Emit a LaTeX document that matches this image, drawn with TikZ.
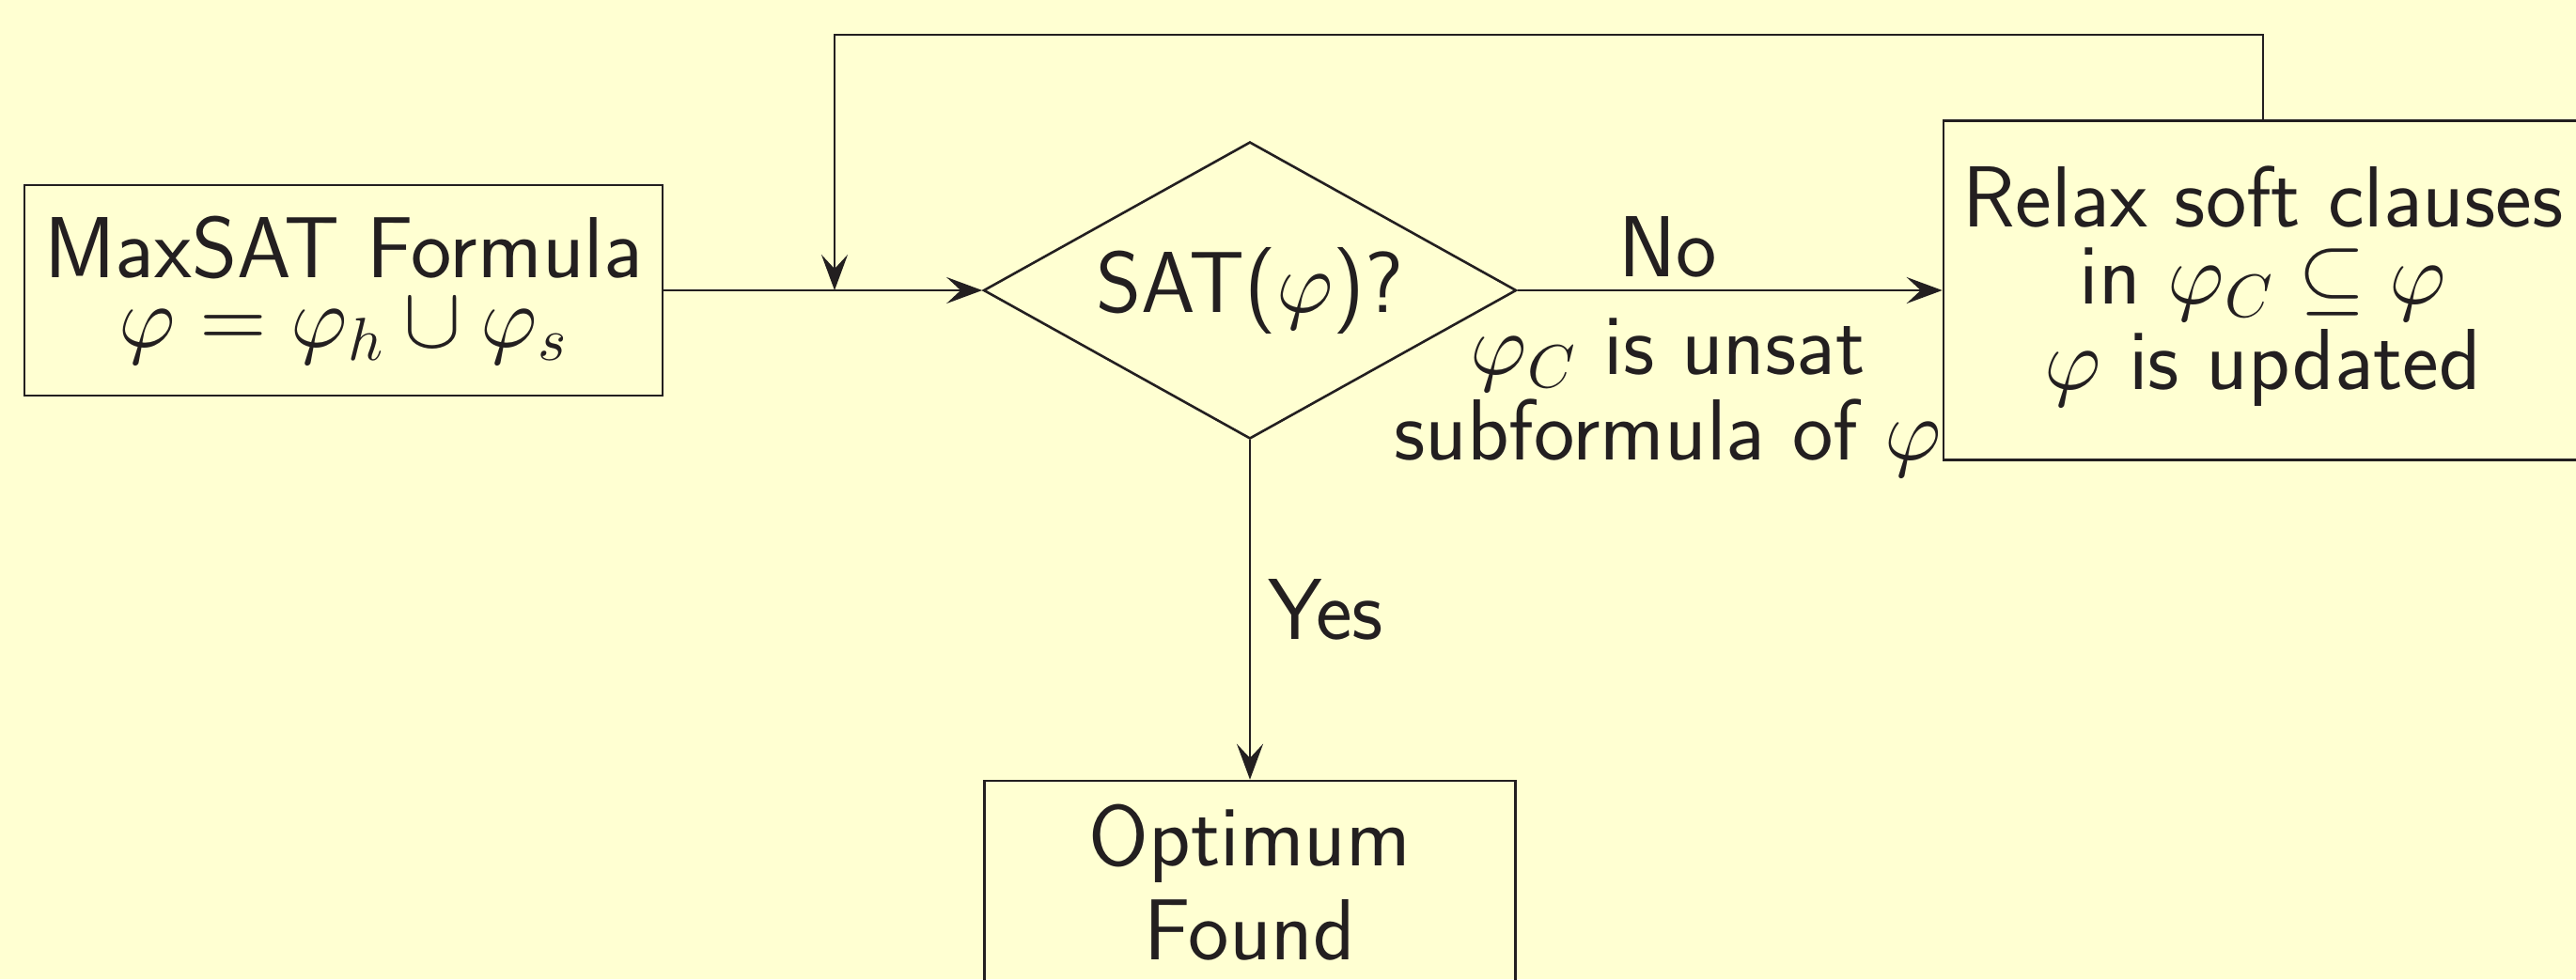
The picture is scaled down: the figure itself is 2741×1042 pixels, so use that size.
\documentclass[tikz,border=0pt]{standalone}
\usetikzlibrary{shapes.geometric,arrows.meta}
\DeclareFontShape{OML}{cmm}{m}{it}{<->cmmi10}{\skewchar\font=127}
\DeclareFontShape{OMS}{cmsy}{m}{n}{<->cmsy10}{\skewchar\font=48}
\DeclareFontShape{OT1}{cmr}{m}{n}{<->cmr10}{}
\definecolor{bg}{RGB}{255,255,210}
\definecolor{ink}{RGB}{35,31,32}
\newcommand\mytightlines{\lineskiplimit -100pt\relax}
\newcommand\myfont{\sffamily\fontsize{23.05pt}{18.5pt}\selectfont\mytightlines}
\begin{document}
\begin{tikzpicture}[x=0.25pt,y=-0.25pt,
  txt/.style={font=\myfont, text=ink},
  box/.style={txt, draw=ink, line width=0.65pt, rectangle, inner sep=0pt, align=center},
  dia/.style={txt, draw=ink, line width=0.65pt, shape=diamond, aspect=1.79, inner sep=0pt,
              minimum width=141.75pt, minimum height=79pt},
  lbl/.style={txt, align=center},
  arr/.style={draw=ink, line width=0.65pt, -{Stealth[length=9.5pt,width=7pt,inset=3.75pt]}}]
\useasboundingbox (0,0) rectangle (2741,1042);
\fill[bg] (0,0) rectangle (2741,1042);

\node[box, minimum width=169.75pt, minimum height=56pt] (mx) at (365.5,309)
  {MaxSAT Formula\\ $\varphi=\varphi_h\cup\varphi_s$};
\node[dia] (d) at (1330,309) {SAT($\varphi$)?};
\node[box, minimum width=170pt, minimum height=90.25pt] (rx) at (2408,309)
  {Relax soft clauses\\[2pt] in $\varphi_C\subseteq\varphi$\\[4.25pt] $\varphi$ is updated\rule[-6.5pt]{0pt}{1pt}};
\node[box, minimum width=141.25pt, minimum height=54pt] (opt) at (1330,939)
  {Optimum\\[6.5pt] Found};

\coordinate (lt) at (888,37);
\coordinate (j) at (888,309);

\draw[arr] (mx) -- (d);
\draw[arr] (d) -- node[lbl, pos=0.354, above, inner sep=3pt] (no) {No}
  node[lbl, pos=0.354, below, inner sep=7.2pt] (cs) {$\varphi_C$ is unsat\\[4.25pt] subformula of $\varphi$} (rx);
\draw[arr] (d) -- node[lbl, midway, right, inner sep=4.6pt] (yes) {Yes} (opt);
\draw[arr] (rx.north) |- (lt) -- (j);
\end{tikzpicture}
\end{document}
